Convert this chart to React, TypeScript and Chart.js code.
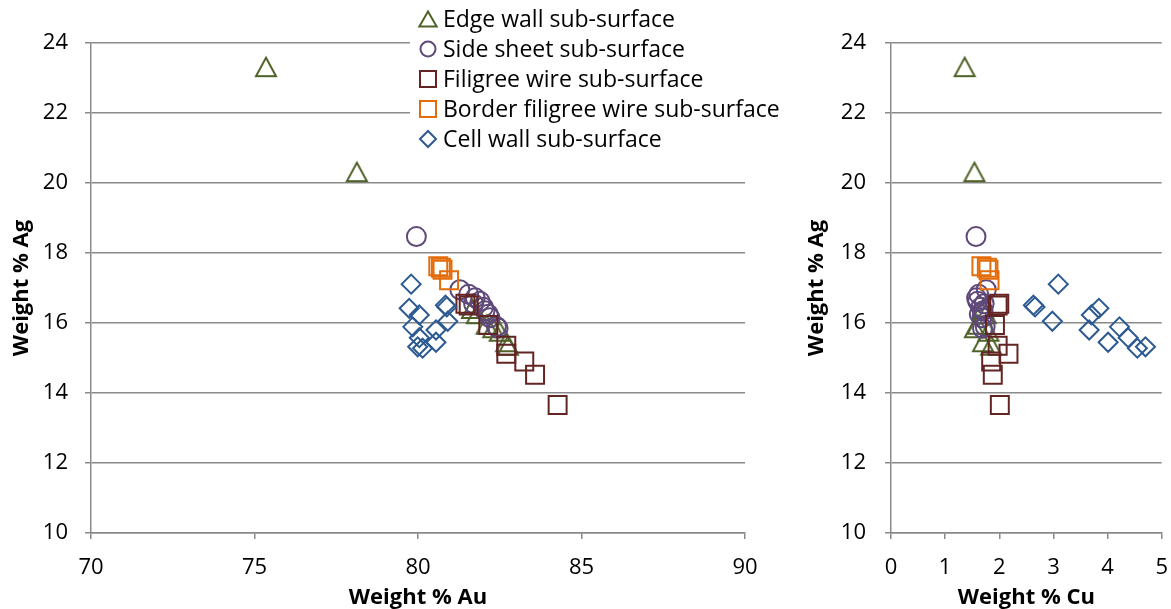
import React, { useEffect, useRef } from "react";
import { Chart, registerables } from "chart.js";

Chart.register(...registerables);

// ---------- data ----------
const seriesNames = [
  "Edge wall sub-surface",
  "Side sheet sub-surface",
  "Filigree wire sub-surface",
  "Border filigree wire sub-surface",
  "Cell wall sub-surface",
];

const edgeAu = [75.35, 78.13, 81.65, 81.8, 82.1, 82.3, 82.5, 82.7, 82.75];
const edgeCu = [1.36, 1.54, 1.7, 1.75, 1.6, 1.55, 1.8, 1.7, 1.85];
const edgeAg = [23.31, 20.31, 16.4, 16.25, 15.95, 15.85, 15.75, 15.45, 15.35];

const sideAu = [79.95, 81.28, 81.55, 81.75, 81.9, 81.7, 82.0, 82.05, 82.15, 82.2, 82.4, 82.45];
const sideCu = [1.57, 1.76, 1.62, 1.58, 1.6, 1.72, 1.66, 1.7, 1.63, 1.68, 1.74, 1.69];
const sideAg = [18.47, 16.95, 16.82, 16.72, 16.62, 16.55, 16.45, 16.35, 16.25, 16.15, 15.9, 15.85];

const filAu = [81.45, 81.55, 82.15, 82.7, 82.7, 83.25, 83.58, 84.27];
const filCu = [2.0, 1.97, 1.92, 1.97, 2.17, 1.85, 1.88, 2.01];
const filAg = [16.55, 16.5, 15.94, 15.35, 15.12, 14.9, 14.52, 13.66];

const borAu = [80.62, 80.7, 80.75, 80.95];
const borCu = [1.67, 1.77, 1.8, 1.82];
const borAg = [17.62, 17.58, 17.52, 17.22];

const cellAu = [79.79, 80.84, 80.88, 79.73, 80.04, 80.91, 79.84, 80.55, 80.04, 80.55, 79.99, 80.14];
const cellCu = [3.09, 2.63, 2.66, 3.84, 3.7, 2.98, 4.22, 3.66, 4.38, 4.01, 4.7, 4.55];
const cellAg = [17.11, 16.51, 16.46, 16.42, 16.23, 16.05, 15.89, 15.8, 15.58, 15.45, 15.32, 15.28];

const agTicks = [10, 12, 14, 16, 18, 20, 22, 24];
const auTicks = [70, 75, 80, 85, 90];
const cuTicks = [0, 1, 2, 3, 4, 5];

// ---------- styles ----------
const FONT = "'Open Sans', sans-serif";
const GRID = "#8a8a8a";
const GRID_W = 1.5;
const seriesColors = ["#4F6228", "#5F497A", "#632523", "#E46C0A", "#2C5A91"];
const seriesStyles = ["triangle", "circle", "rect", "rect", "rectRot"];
const seriesRadius = [12, 9.5, 12.7, 12.7, 9.5];
const legendRadius = [10, 7.5, 8, 8, 8];

const auSeries = [edgeAu, sideAu, filAu, borAu, cellAu];
const cuSeries = [edgeCu, sideCu, filCu, borCu, cellCu];
const agSeries = [edgeAg, sideAg, filAg, borAg, cellAg];

function drawMarker(ctx: CanvasRenderingContext2D, style: string, x: number, y: number, r: number, color: string) {
  ctx.beginPath();
  if (style === "triangle") {
    const yc = y + r / 4;
    ctx.moveTo(x, yc - r);
    ctx.lineTo(x + r * 0.866, yc + r * 0.5);
    ctx.lineTo(x - r * 0.866, yc + r * 0.5);
    ctx.closePath();
  } else if (style === "circle") {
    ctx.arc(x, y, r, 0, Math.PI * 2);
  } else if (style === "rect") {
    ctx.rect(x - r, y - r, 2 * r, 2 * r);
  } else {
    ctx.moveTo(x - r, y);
    ctx.lineTo(x, y - r);
    ctx.lineTo(x + r, y);
    ctx.lineTo(x, y + r);
    ctx.closePath();
  }
  ctx.strokeStyle = color;
  ctx.lineWidth = 2;
  ctx.stroke();
}

// triangle marker centred on its bounding box (as the spreadsheet draws it)
function makeTriangleImage(color: string) {
  const c = document.createElement("canvas");
  c.width = 26;
  c.height = 26;
  const ctx = c.getContext("2d") as CanvasRenderingContext2D;
  ctx.beginPath();
  ctx.moveTo(13, 3.5);
  ctx.lineTo(23, 22);
  ctx.lineTo(3, 22);
  ctx.closePath();
  ctx.strokeStyle = color;
  ctx.lineWidth = 2;
  ctx.lineJoin = "miter";
  ctx.stroke();
  return c;
}

const legendPlugin = {
  id: "customLegend",
  afterDraw(chart: any) {
    const ctx: CanvasRenderingContext2D = chart.ctx;
    ctx.save();
    ctx.fillStyle = "#ffffff";
    ctx.fillRect(410, 0, chart.width - 410, 156);
    ctx.font = `23px ${FONT}`;
    ctx.textBaseline = "middle";
    ctx.textAlign = "left";
    seriesNames.forEach((name, i) => {
      const y = 19 + i * 30;
      drawMarker(ctx, seriesStyles[i], 428, y, legendRadius[i], seriesColors[i]);
      ctx.fillStyle = "#000000";
      ctx.fillText(name, 443, y + 1);
    });
    ctx.restore();
  },
};

function makeConfig(xVals: number[][], xTicks: number[], xTitle: string, yWidth: number, padRight: number, yTitlePad: number, yTickPad: number, withLegend: boolean) {
  const tri = makeTriangleImage(seriesColors[0]);
  const datasets = seriesNames.map((name, i) => ({
    label: name,
    data: xVals[i].map((x, j) => ({ x, y: agSeries[i][j] })),
    pointStyle: i === 0 ? tri : seriesStyles[i],
    pointRadius: seriesRadius[i],
    pointBorderWidth: 2,
    pointBorderColor: seriesColors[i],
    pointBackgroundColor: "rgba(0,0,0,0)",
    borderColor: seriesColors[i],
    backgroundColor: "rgba(0,0,0,0)",
    showLine: false,
    order: 5 - i,
  }));
  return {
    type: "scatter" as const,
    data: { datasets },
    plugins: withLegend ? [legendPlugin] : [],
    options: {
      animation: false,
      responsive: false,
      events: [],
      layout: { padding: { left: 0, right: padRight, top: 43, bottom: 0 } },
      plugins: { legend: { display: false }, tooltip: { enabled: false } },
      scales: {
        x: {
          type: "linear",
          min: xTicks[0],
          max: xTicks[xTicks.length - 1],
          afterBuildTicks: (s: any) => {
            s.ticks = xTicks.map((v) => ({ value: v }));
          },
          afterFit: (s: any) => {
            s.height = 76;
          },
          grid: { drawOnChartArea: false, drawTicks: true, tickLength: 6, color: GRID, lineWidth: GRID_W },
          border: { display: true, color: GRID, width: GRID_W },
          ticks: { font: { family: FONT, size: 22 }, color: "#000", padding: 16, maxRotation: 0 },
          title: {
            display: true,
            text: xTitle,
            color: "#000",
            font: { family: FONT, size: 22, weight: "bold", lineHeight: 1.0 },
            padding: { top: 0, bottom: 0 },
          },
        },
        y: {
          type: "linear",
          min: agTicks[0],
          max: agTicks[agTicks.length - 1],
          afterBuildTicks: (s: any) => {
            s.ticks = agTicks.map((v) => ({ value: v }));
          },
          afterFit: (s: any) => {
            s.width = yWidth;
          },
          grid: { drawTicks: true, tickLength: 6, color: GRID, lineWidth: GRID_W },
          border: { display: true, color: GRID, width: GRID_W },
          ticks: { font: { family: FONT, size: 22 }, color: "#000", padding: yTickPad },
          title: {
            display: true,
            text: "Weight % Ag",
            color: "#000",
            font: { family: FONT, size: 22, weight: "bold" },
            padding: { top: yTitlePad, bottom: 0 },
          },
        },
      },
    },
  };
}

export default function App() {
  const leftRef = useRef<HTMLCanvasElement>(null);
  const rightRef = useRef<HTMLCanvasElement>(null);

  useEffect(() => {
    const left = new Chart(leftRef.current as HTMLCanvasElement, makeConfig(auSeries, auTicks, "Weight % Au", 91, 45, 9, 17, true) as any);
    const right = new Chart(rightRef.current as HTMLCanvasElement, makeConfig(cuSeries, cuTicks, "Weight % Cu", 101, 0, 14, 19, false) as any);
    return () => {
      left.destroy();
      right.destroy();
    };
  }, []);

  return (
    <div style={{ position: "fixed", left: 0, top: 0, width: 1171, height: 609, background: "#fff", overflow: "hidden" }}>
      <canvas ref={leftRef} width={790} height={609} style={{ position: "absolute", left: 0, top: 0, width: 790, height: 609 }} />
      <canvas ref={rightRef} width={394} height={609} style={{ position: "absolute", left: 790, top: 0, width: 394, height: 609 }} />
    </div>
  );
}
